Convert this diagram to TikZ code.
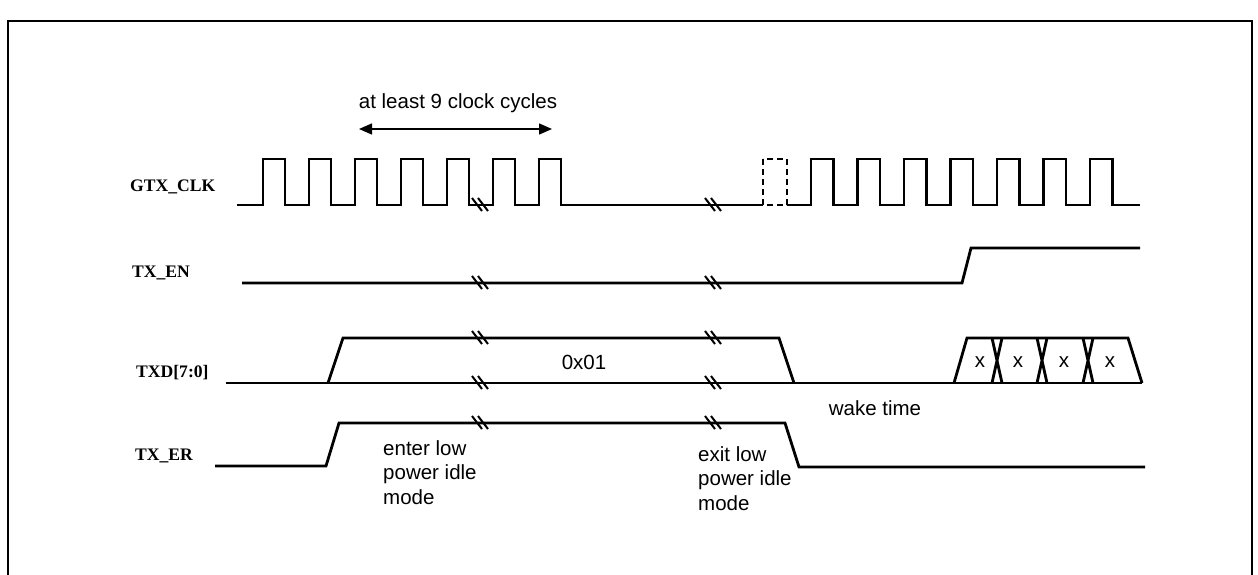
\documentclass[tikz,border=0pt]{standalone}
\usepackage{fontspec}
\setmainfont{Liberation Sans}
\newfontfamily\sigfont{Liberation Serif}
\usetikzlibrary{arrows.meta}

% break mark on a wire
\newcommand{\brk}[2]{\draw[line width=2pt] (#1-8,#2-7) -- (#1+2,#2+6) (#1-2,#2-7) -- (#1+8,#2+6);}

\begin{document}
\begin{tikzpicture}[x=1pt, y=-1pt,
  wave/.style={line width=2.8pt},
  sig/.style={font=\sigfont\bfseries\fontsize{17.6}{20}\selectfont, anchor=west, inner sep=0pt},
  note/.style={font=\fontsize{20.5}{24.5}\selectfont, inner sep=0pt, align=left}]
\useasboundingbox (0,0) rectangle (1258,575);
\draw[line width=2pt] (8,590) -- (8,21) -- (1252,21) -- (1252,590);
% signal names
\node[sig] (clk) at (130,187) {GTX\_CLK};
\node[sig] (en) at (132,273) {TX\_EN};
\node[sig] (txd) at (136,373) {TXD[7:0]};
\node[sig] (er) at (135,456) {TX\_ER};
% GTX_CLK
\draw[wave] (237,205) foreach \t in {263,309,355,401,447,493,539} { -- (\t,205) -- (\t,159) -- (\t+22,159) -- (\t+22,205) } -- (763,205);
\draw[line width=2pt, dash pattern=on 6pt off 4pt] (763,159) rectangle (787,205);
\draw[wave] (787,205) foreach \t in {811,857.5,904,950.5,997,1043.5,1090} { -- (\t,205) -- (\t,159) -- (\t+22.5,159) -- (\t+22.5,205) } -- (1140,205);
% TX_EN
\draw[wave] (242,283) -- (962,283) -- (971,248) -- (1140,248);
% TXD[7:0]
\draw[wave] (226,383) -- (1142,383);
\draw[wave] (328,383) -- (343,338) -- (779,338) -- (794,383);
\draw[wave] (954,383) -- (967,338) -- (1128,338) -- (1142,383);
\foreach \c in {997,1042,1088} \draw[wave] (\c-5,338) -- (\c+5,383) (\c+5,338) -- (\c-5,383);
\node[note] (d0) at (584,362) {0x01};
\node[note] (d1) at (980,362) {x};
\node[note] (d2) at (1018,362) {x};
\node[note] (d3) at (1064,362) {x};
\node[note] (d4) at (1110,362) {x};
% TX_ER
\draw[wave] (215,466) -- (326,466) -- (339,423) -- (785,423) -- (799,467) -- (1145,467);
% breaks
\foreach \y in {205,283,338,383,423} { \brk{480}{\y} \brk{713}{\y} }
% notes
\coordinate (cycA) at (359,129);
\coordinate (cycB) at (552,129);
\draw[line width=1.5pt, {Triangle[length=13pt,width=11pt]}-{Triangle[length=13pt,width=11pt]}] (cycA) -- (cycB);
\node[note] (cyc) at (458,103) {at least 9 clock cycles};
\node[note, anchor=north west] (enter) at (383,440) {enter low\\power idle\\mode};
\node[note, anchor=north west] (exit) at (698,446) {exit low\\power idle\\mode};
\node[note] (wake) at (875,408) {wake time};
\end{tikzpicture}
\end{document}
